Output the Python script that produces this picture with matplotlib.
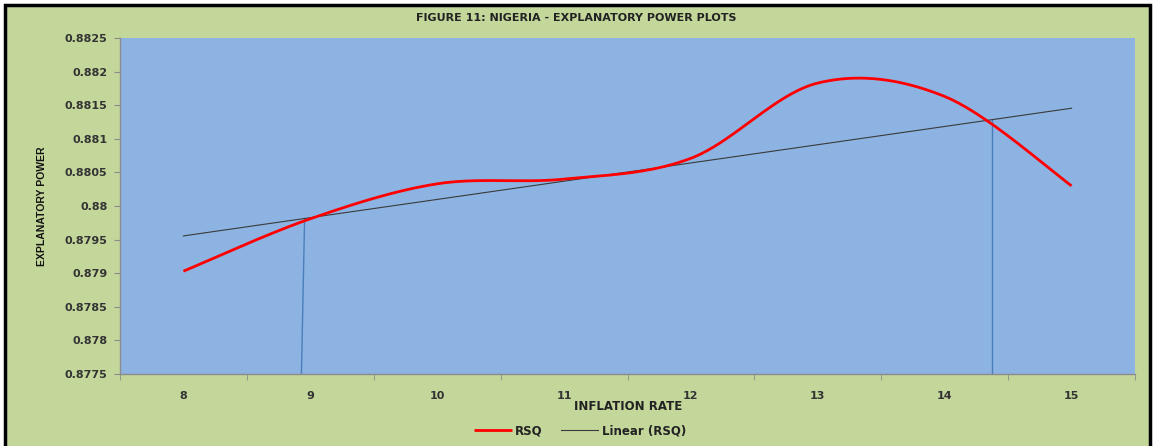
import numpy as np
import matplotlib
matplotlib.use("Agg")
import matplotlib.pyplot as plt
from matplotlib.patches import Rectangle

# data
inflation = [8, 9, 10, 11, 12, 13, 14, 15]
rsq = [0.87903, 0.87981, 0.88033, 0.88040, 0.88071, 0.88183, 0.88163, 0.88030]
# blue drop lines where the curve meets the trend (bottom x, top x)
drop_x = [(8.93, 8.955), (14.37, 14.37)]
yticks = [0.8775, 0.878, 0.8785, 0.879, 0.8795, 0.88, 0.8805, 0.881, 0.8815, 0.882, 0.8825]
ytick_labels = ["0.8775", "0.878", "0.8785", "0.879", "0.8795", "0.88",
                "0.8805", "0.881", "0.8815", "0.882", "0.8825"]


def smooth(x, y, n=40):
    # excel-style smoothed line: cubic bezier through the points
    x = np.asarray(x, float)
    y = np.asarray(y, float)
    xs, ys = [], []
    for i in range(len(x) - 1):
        p0 = np.array([x[max(i - 1, 0)], y[max(i - 1, 0)]])
        p1 = np.array([x[i], y[i]])
        p2 = np.array([x[i + 1], y[i + 1]])
        p3 = np.array([x[min(i + 2, len(x) - 1)], y[min(i + 2, len(x) - 1)]])
        c1 = p1 + (p2 - p0) / 6
        c2 = p2 - (p3 - p1) / 6
        t = np.linspace(0, 1, n)[:, None]
        pts = ((1 - t) ** 3) * p1 + 3 * ((1 - t) ** 2) * t * c1 + 3 * (1 - t) * t ** 2 * c2 + t ** 3 * p2
        xs.append(pts[:, 0])
        ys.append(pts[:, 1])
    return np.concatenate(xs), np.concatenate(ys)


green = "#C4D79B"
plot_bg = "#8DB3E2"
text_col = "#333333"

fig = plt.figure(figsize=(11.53, 4.46), dpi=100, facecolor="white")
fig.patches.append(Rectangle((5 / 1153, -0.02), 1145 / 1153, 1 - 5 / 446 + 0.02,
                             transform=fig.transFigure, facecolor=green,
                             edgecolor="black", linewidth=2.5, zorder=-5))

ax = fig.add_axes([120 / 1153, 1 - 374 / 446, 1015 / 1153, 336 / 446])
ax.set_facecolor(plot_bg)

sx, sy = smooth(inflation, rsq)
ax.plot(sx, sy, color="#FF0000", linewidth=2.0, label="RSQ", zorder=3,
        solid_capstyle="butt")

coef = np.polyfit(inflation, rsq, 1)
trend = np.polyval(coef, inflation)
ax.plot(inflation, trend, color="#3A3A3A", linewidth=0.8, label="Linear (RSQ)", zorder=2)

for xb, xt in drop_x:
    ax.plot([xb, xt], [yticks[0], np.polyval(coef, xt)], color="#4A7EBB",
            linewidth=1.0, zorder=1)

ax.set_xlim(7.5, 15.5)
ax.set_ylim(yticks[0], yticks[-1])
ax.set_yticks(yticks)
ax.set_yticklabels(ytick_labels)
ax.set_xticks(inflation)
ax.set_xticklabels([str(v) for v in inflation])
ax.set_xticks(np.arange(7.5, 15.6, 1), minor=True)
ax.tick_params(axis="x", which="major", length=0, pad=12, labelsize=8, labelcolor=text_col)
ax.tick_params(axis="x", which="minor", length=4, color="#8C8C8C", direction="out")
ax.tick_params(axis="y", length=4, color="#8C8C8C", pad=5, labelsize=8, labelcolor=text_col)
for lab in ax.get_xticklabels() + ax.get_yticklabels():
    lab.set_fontweight("bold")

for s in ["top", "right"]:
    ax.spines[s].set_visible(False)
for s in ["left", "bottom"]:
    ax.spines[s].set_color("#8C8C8C")
    ax.spines[s].set_linewidth(1.0)

fig.text(576 / 1153, 1 - 18 / 446, "FIGURE 11: NIGERIA - EXPLANATORY POWER PLOTS",
         ha="center", va="center", fontsize=8, fontweight="bold", color="#222222")
fig.text(628 / 1153, 1 - 407 / 446, "INFLATION RATE", ha="center", va="center",
         fontsize=8.5, fontweight="bold", color="#222222")
fig.text(42 / 1153, 1 - 206 / 446, "EXPLANATORY POWER", rotation=90, ha="center", va="center",
         fontsize=7.5, fontweight="bold", color="#111111", family="Liberation Sans")

leg = fig.legend(loc="center", bbox_to_anchor=(580 / 1153, 1 - 431 / 446), ncol=2,
                 frameon=False, fontsize=8.5, handlelength=3.2, columnspacing=1.5,
                 handletextpad=0.3)
for t in leg.get_texts():
    t.set_fontweight("bold")
    t.set_color("#222222")

fig.savefig("out.png", dpi=100, facecolor=fig.get_facecolor())
